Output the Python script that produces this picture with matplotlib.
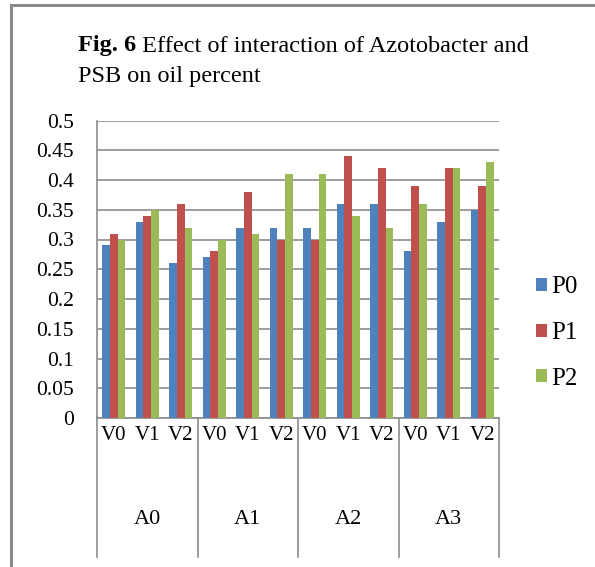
import matplotlib
matplotlib.use("Agg")
import matplotlib.pyplot as plt
import numpy as np
from matplotlib.patches import Rectangle
import matplotlib.transforms as mtransforms

plt.rcParams['font.family'] = ['Liberation Serif', 'DejaVu Serif']

groups = ["A0", "A1", "A2", "A3"]
subcats = ["V0", "V1", "V2"]
series_names = ["P0", "P1", "P2"]
P0 = [0.29, 0.33, 0.26, 0.27, 0.32, 0.32, 0.32, 0.36, 0.36, 0.28, 0.33, 0.35]
P1 = [0.31, 0.34, 0.36, 0.28, 0.38, 0.30, 0.30, 0.44, 0.42, 0.39, 0.42, 0.39]
P2 = [0.30, 0.35, 0.32, 0.30, 0.31, 0.41, 0.41, 0.34, 0.32, 0.36, 0.42, 0.43]
yticks = [0, 0.05, 0.1, 0.15, 0.2, 0.25, 0.3, 0.35, 0.4, 0.45, 0.5]
ytick_labels = ["0", "0.05", "0.1", "0.15", "0.2", "0.25", "0.3", "0.35", "0.4", "0.45", "0.5"]
title_bold = "Fig. 6"
title_rest = " Effect of interaction of Azotobacter and"
title_line2 = "PSB on oil percent"

colors = ["#4F81BD", "#C0504D", "#9BBB59"]
grid_c = "#8C8C8C"

W, H = 595, 567
fig = plt.figure(figsize=(W / 100, H / 100), dpi=100)

# outer frame
fig.patches.append(Rectangle((11 / W, -0.1), 1.2, (H - 5) / H + 0.1, transform=fig.transFigure,
                             fill=False, edgecolor="#8A8A8A", linewidth=2.2))

ax = fig.add_axes([97 / W, (H - 418) / H, (499 - 97) / W, (418 - 120.5) / H])

n = len(P0)
x = np.arange(n)
bw = 0.23
for i, (vals, c) in enumerate(zip([P0, P1, P2], colors)):
    ax.bar(x + (i - 1) * bw, vals, bw, color=c, label=series_names[i], zorder=3)

ax.set_xlim(-0.5, n - 0.5)
ax.set_ylim(0, 0.5)
ax.set_yticks(yticks)
ax.set_yticklabels(ytick_labels, fontsize=15.5)
ax.tick_params(axis='y', length=0, pad=16.5)
ax.yaxis.grid(True, color=grid_c, linewidth=1.2, zorder=0)
ax.set_xticks(x)
ax.set_xticklabels(subcats * len(groups), fontsize=15)
ax.tick_params(axis='x', length=0, pad=6)
for s in ["top", "right"]:
    ax.spines[s].set_visible(False)
for s in ["left", "bottom"]:
    ax.spines[s].set_color(grid_c)
    ax.spines[s].set_linewidth(1.2)

trans = mtransforms.blended_transform_factory(ax.transData, ax.transAxes)
drop = -(557 - 418) / (418 - 120.5)
for g in range(len(groups) + 1):
    xb = g * 3 - 0.5
    ax.plot([xb, xb], [0, drop], transform=trans, color=grid_c, linewidth=1.2, clip_on=False)
for g, name in enumerate(groups):
    ax.text(g * 3 + 1, -(520 - 418) / (418 - 120.5), name, transform=trans,
            ha="center", va="center", fontsize=16)

leg = fig.legend(loc="center left", bbox_to_anchor=(536 / W, 1 - 333 / H), frameon=False,
                 fontsize=18, handlelength=0.42, handleheight=0.42, handletextpad=0.18,
                 labelspacing=0.95, borderpad=0, borderaxespad=0)

t1 = fig.text(78 / W, 1 - 46 / H, title_bold, fontsize=17.5, fontweight="bold", va="center", ha="left")
fig.canvas.draw()
bb = t1.get_window_extent()
fig.text(bb.x1 / (W), 1 - 46 / H, title_rest, fontsize=17.5, va="center", ha="left")
fig.text(78 / W, 1 - 77 / H, title_line2, fontsize=17.5, va="center", ha="left")

fig.savefig("out.png", dpi=100)
